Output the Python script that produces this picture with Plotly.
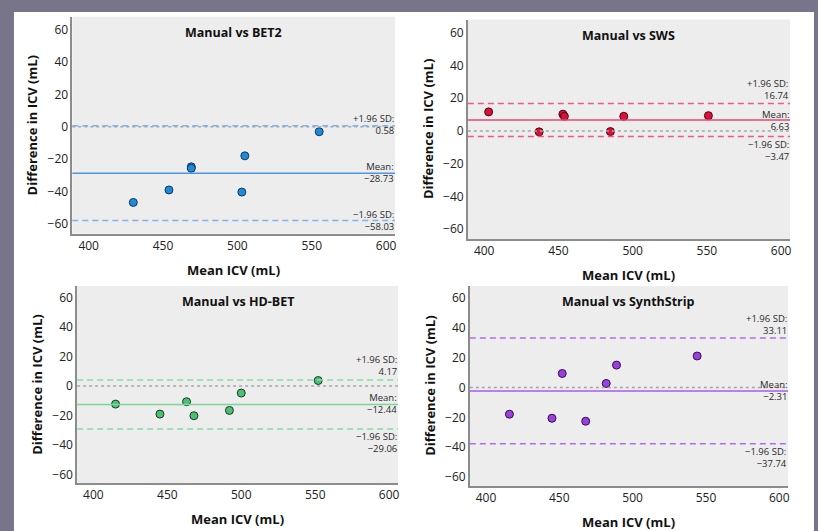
import plotly.graph_objects as go

# ---------------- data ----------------
panel_titles = ["Manual vs BET2", "Manual vs SWS", "Manual vs HD-BET", "Manual vs SynthStrip"]

bet2_mean_icv = [430, 454, 469, 469, 503, 505, 555]
bet2_diff = [-46.8, -39.1, -24.8, -25.7, -40.4, -18.0, -3.1]
bet2_limits = [0.58, -28.73, -58.03]          # +1.96 SD, mean, -1.96 SD

sws_mean_icv = [403, 437, 453, 454, 485, 494, 551]
sws_diff = [11.6, -0.6, 10.2, 8.9, -0.4, 8.9, 9.3]
sws_limits = [16.74, 6.63, -3.47]

hdbet_mean_icv = [415, 445, 463, 468, 492, 500, 552]
hdbet_diff = [-12.2, -19.0, -10.6, -20.1, -16.5, -4.7, 3.8]
hdbet_limits = [4.17, -12.44, -29.06]

synth_mean_icv = [416, 445, 452, 468, 482, 489, 544]
synth_diff = [-17.9, -20.6, 9.4, -22.6, 2.7, 15.0, 21.1]
synth_limits = [33.11, -2.31, -37.74]

x_ticks = [400, 450, 500, 550, 600]
y_ticks = [-60, -40, -20, 0, 20, 40, 60]
limit_names = ["+1.96 SD:", "Mean:", "\u22121.96 SD:"]

x_title = "Mean ICV (mL)"
y_title = "Difference in ICV (mL)"

# ---------------- style ----------------
W, H = 820, 531
FONT = "Open Sans, Lato, DejaVu Sans, sans-serif"
panels = [
    dict(x=bet2_mean_icv, y=bet2_diff, lim=bet2_limits,
         marker="#1f8ad8", edge="#12385a", line="#4f95e6", dashc="#7fb2ee",
         px=(72.5, 396), py=(16.7, 233.5), shifts=[1, 1, 0]),
    dict(x=sws_mean_icv, y=sws_diff, lim=sws_limits,
         marker="#dd1038", edge="#4a0612", line="#e8476e", dashc="#ec5a80",
         px=(469, 792), py=(19.5, 239), shifts=[14, 0, -14]),
    dict(x=hdbet_mean_icv, y=hdbet_diff, lim=hdbet_limits,
         marker="#4cbf74", edge="#1c3a26", line="#7bd89a", dashc="#86dca4",
         px=(77.3, 399), py=(286, 483.3), shifts=[14, 1, -14]),
    dict(x=synth_mean_icv, y=synth_diff, lim=synth_limits,
         marker="#9a3fe0", edge="#321048", line="#a859ee", dashc="#b46cf2",
         px=(471, 790), py=(286, 486), shifts=[14, 0, -14]),
]

fig = go.Figure()

# outer frame
for x0, x1, y0, y1 in [(0, 820, 0, 12), (0, 14, 0, 531), (816, 820, 0, 531)]:
    fig.add_shape(type="rect", xref="paper", yref="paper", layer="below",
                  x0=x0 / W, x1=x1 / W, y0=1 - y1 / H, y1=1 - y0 / H,
                  fillcolor="#787489", line=dict(width=0))

for i, p in enumerate(panels):
    n = "" if i == 0 else str(i + 1)
    xa, ya = "x" + n, "y" + n
    fig.add_trace(go.Scatter(
        x=p["x"], y=p["y"], mode="markers", xaxis=xa, yaxis=ya, showlegend=False,
        marker=dict(size=8, color=p["marker"], line=dict(color=p["edge"], width=1)),
        cliponaxis=False))

    dom_x = [p["px"][0] / W, p["px"][1] / W]
    dom_y = [1 - p["py"][1] / H, 1 - p["py"][0] / H]
    axis_common = dict(showline=True, linecolor="#8c8c8c", linewidth=1.5, mirror=False,
                       showgrid=False, zeroline=False, ticks="",
                       tickfont=dict(family=FONT, size=12, color="#222222"))
    fig.update_layout(**{
        ("xaxis" + n): dict(domain=dom_x, range=[389, 606], tickvals=x_ticks,
                            ticktext=[str(v) for v in x_ticks],
                            anchor=ya, **axis_common),
        ("yaxis" + n): dict(domain=dom_y, range=[-66, 68], tickvals=y_ticks,
                            ticktext=[str(v).replace("-", "\u2212") for v in y_ticks],
                            anchor=xa, **axis_common),
    })

    # zero reference line
    fig.add_shape(type="line", xref=xa + " domain", yref=ya, x0=0, x1=1, y0=0, y1=0,
                  line=dict(color="#a6a6a6", width=1.5, dash="dot"))
    # limits of agreement and mean
    for k, val in enumerate(p["lim"]):
        col = p["line"] if k == 1 else p["dashc"]
        fig.add_shape(type="line", xref=xa + " domain", yref=ya, x0=0, x1=1, y0=val, y1=val,
                      line=dict(color=col, width=1.5, dash="solid" if k == 1 else "6px,4px"))
        val_txt = f"{val:.2f}".replace("-", "\u2212")
        fig.add_annotation(xref=xa + " domain", yref=ya, x=1, y=val, xanchor="right",
                           yanchor="middle", showarrow=False, align="right",
                           text=limit_names[k] + "<br>" + val_txt,
                           yshift=p["shifts"][k], xshift=0, borderpad=0,
                           font=dict(family=FONT, size=9.5, color="#2a2a2a"))

    # panel title
    fig.add_annotation(xref=xa + " domain", yref=ya + " domain", x=0.5, y=1, xanchor="center",
                       yanchor="top", yshift=-5, showarrow=False, text="<b>" + panel_titles[i] + "</b>",
                       font=dict(family=FONT, size=12.5, color="#111111"))
    # axis titles
    fig.add_annotation(xref=xa + " domain", yref=ya + " domain", x=0.5, y=0, xanchor="center",
                       yanchor="middle", yshift=-36, showarrow=False, text="<b>" + x_title + "</b>",
                       font=dict(family=FONT, size=13, color="#111111"))
    fig.add_annotation(xref=xa + " domain", yref=ya + " domain", x=0, y=0.5, xanchor="center",
                       yanchor="middle", xshift=-40, showarrow=False, textangle=-90,
                       text="<b>" + y_title + "</b>",
                       font=dict(family=FONT, size=13, color="#111111"))

fig.update_layout(width=W, height=H, autosize=False,
                  margin=dict(l=0, r=0, t=0, b=0),
                  paper_bgcolor="white", plot_bgcolor="#ededed",
                  font=dict(family=FONT, color="#222222"))

fig.write_html("out.html", config={"displayModeBar": False},
               post_script="document.body.style.margin='0';")
